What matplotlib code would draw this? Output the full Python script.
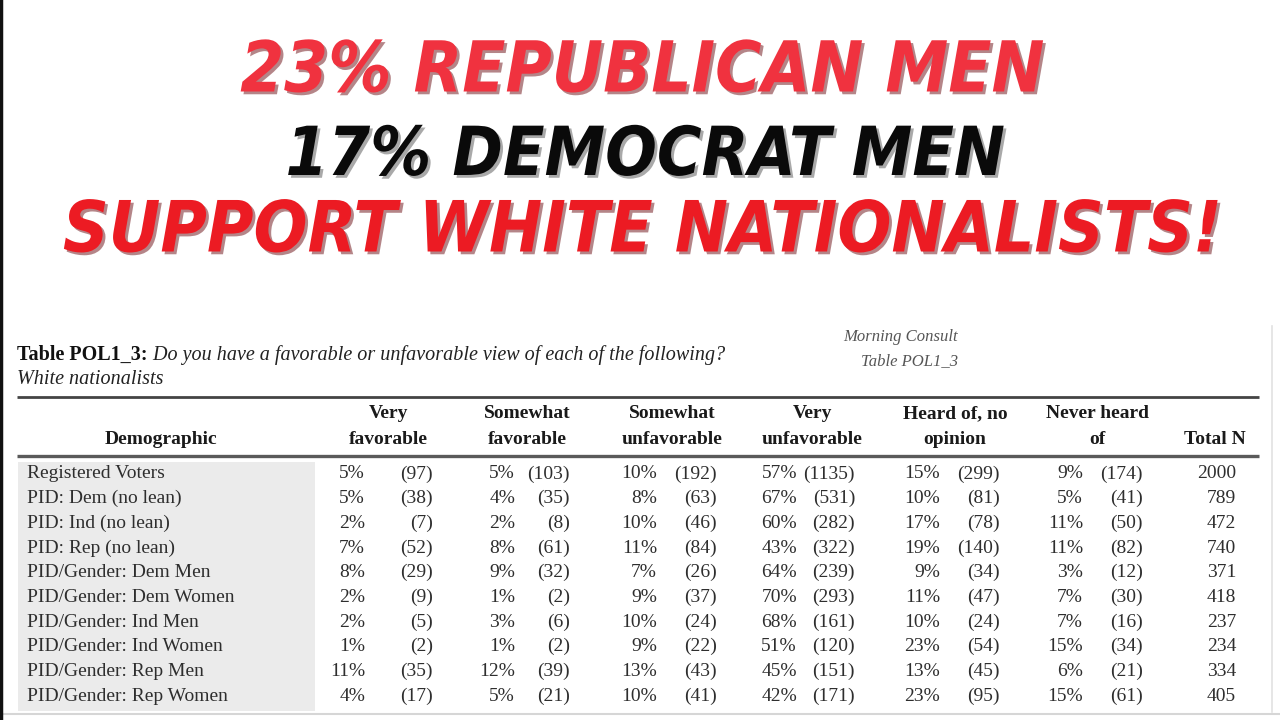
import matplotlib.pyplot as plt
import matplotlib.patheffects as pe

# headline
headline = ["23% REPUBLICAN MEN", "17% DEMOCRAT MEN", "SUPPORT WHITE NATIONALISTS!"]
headline_colors = ["#f0323f", "#0a0a0a", "#ec1b23"]

# table text
table_title = "Table POL1_3:"
table_question = "Do you have a favorable or unfavorable view of each of the following?"
table_subject = "White nationalists"
source_lines = ["Morning Consult", "Table POL1_3"]
col_headers = [("Very", "favorable"), ("Somewhat", "favorable"), ("Somewhat", "unfavorable"),
               ("Very", "unfavorable"), ("Heard of, no", "opinion"), ("Never heard", "of")]

demographics = [
    "Registered Voters",
    "PID: Dem (no lean)",
    "PID: Ind (no lean)",
    "PID: Rep (no lean)",
    "PID/Gender: Dem Men",
    "PID/Gender: Dem Women",
    "PID/Gender: Ind Men",
    "PID/Gender: Ind Women",
    "PID/Gender: Rep Men",
    "PID/Gender: Rep Women",
]
very_fav_pct = [5, 5, 2, 7, 8, 2, 2, 1, 11, 4]
very_fav_n = [97, 38, 7, 52, 29, 9, 5, 2, 35, 17]
some_fav_pct = [5, 4, 2, 8, 9, 1, 3, 1, 12, 5]
some_fav_n = [103, 35, 8, 61, 32, 2, 6, 2, 39, 21]
some_unfav_pct = [10, 8, 10, 11, 7, 9, 10, 9, 13, 10]
some_unfav_n = [192, 63, 46, 84, 26, 37, 24, 22, 43, 41]
very_unfav_pct = [57, 67, 60, 43, 64, 70, 68, 51, 45, 42]
very_unfav_n = [1135, 531, 282, 322, 239, 293, 161, 120, 151, 171]
no_opinion_pct = [15, 10, 17, 19, 9, 11, 10, 23, 13, 23]
no_opinion_n = [299, 81, 78, 140, 34, 47, 24, 54, 45, 95]
never_heard_pct = [9, 5, 11, 11, 3, 7, 7, 15, 6, 15]
never_heard_n = [174, 41, 50, 82, 12, 30, 16, 34, 21, 61]
total_n = [2000, 789, 472, 740, 371, 418, 237, 234, 334, 405]

pct_cols = [very_fav_pct, some_fav_pct, some_unfav_pct, very_unfav_pct, no_opinion_pct, never_heard_pct]
n_cols = [very_fav_n, some_fav_n, some_unfav_n, very_unfav_n, no_opinion_n, never_heard_n]

# layout (pixel coordinates of a 1280x720 canvas)
header_x = [388, 527, 672, 812, 955, 1097]
pct_right = [365, 515, 657, 797, 940, 1083]
n_right = [433, 570, 717, 855, 1000, 1143]
total_right = 1236
row_y0, row_dy = 474, 24.67
SERIF = ["Liberation Serif", "DejaVu Serif"]
INK = "#2e2e2e"

fig = plt.figure(figsize=(12.8, 7.2), dpi=100)
ax = fig.add_axes([0, 0, 1, 1])
ax.set_xlim(0, 1280)
ax.set_ylim(720, 0)
ax.axis("off")
renderer = fig.canvas.get_renderer()

# headline, each line sized to the width it spans in the reference
head_y = [72, 156, 232]
head_width = [805, 720, 1160]
head_x = [642, 645, 642]
for txt, col, x, y, w in zip(headline, headline_colors, head_x, head_y, head_width):
    shadow = "#6b0d12" if col != "#0a0a0a" else "#555555"
    t = ax.text(x, y, txt, ha="center", va="center", fontsize=50, color=col,
                family="DejaVu Sans", fontstretch="condensed", fontweight="heavy",
                fontstyle="italic")
    cur = t.get_window_extent(renderer).width
    t.set_fontsize(50 * w / cur)
    t.set_path_effects([pe.SimplePatchShadow(offset=(2, -2), shadow_rgbFace=shadow, alpha=0.5),
                        pe.Normal()])

# table title
t1 = ax.text(17, 355, table_title, ha="left", va="center", fontsize=14.5,
             family=SERIF, fontweight="bold", color="#111111")
ax.annotate(" " + table_question, xy=(1, 0), xycoords=t1, va="bottom", ha="left",
            fontsize=14.5, family=SERIF, fontstyle="italic", color="#222222")
ax.text(17, 379, table_subject, ha="left", va="center", fontsize=14.5,
        family=SERIF, fontstyle="italic", color="#222222")
ax.text(958, 337, source_lines[0], ha="right", va="center", fontsize=12,
        family=SERIF, fontstyle="italic", color="#555555")
ax.text(958, 361, source_lines[1], ha="right", va="center", fontsize=12,
        family=SERIF, fontstyle="italic", color="#555555")

# rules
ax.plot([17, 1259], [397, 397], color="#444444", lw=2.0, solid_capstyle="butt")
ax.plot([17, 1259], [456, 456], color="#5a5a5a", lw=2.4, solid_capstyle="butt")
ax.plot([0, 1280], [714, 714], color="#d6d6d6", lw=1.5)

# header
ax.text(161, 440, "Demographic", ha="center", va="center", fontsize=14,
        family=SERIF, fontweight="bold", color="#1a1a1a")
for (h1, h2), x in zip(col_headers, header_x):
    ax.text(x, 414, h1, ha="center", va="center", fontsize=14,
            family=SERIF, fontweight="bold", color="#1a1a1a")
    ax.text(x, 440, h2, ha="center", va="center", fontsize=14,
            family=SERIF, fontweight="bold", color="#1a1a1a")
ax.text(total_right + 10, 440, "Total N", ha="right", va="center", fontsize=14,
        family=SERIF, fontweight="bold", color="#1a1a1a")

# demographic column shading
ax.add_patch(plt.Rectangle((18, 462), 297, 249, color="#ebebeb", zorder=0, lw=0))

for i, name in enumerate(demographics):
    y = row_y0 + i * row_dy
    ax.text(27, y, name, ha="left", va="center", fontsize=14, family=SERIF, color=INK)
    for pcts, ns, px, nx in zip(pct_cols, n_cols, pct_right, n_right):
        ax.text(px, y, f"{pcts[i]}%", ha="right", va="center", fontsize=14,
                family=SERIF, color=INK)
        ax.text(nx, y, f"({ns[i]})", ha="right", va="center", fontsize=14,
                family=SERIF, color=INK)
    ax.text(total_right, y, str(total_n[i]), ha="right", va="center", fontsize=14,
            family=SERIF, color=INK)

# frame edges of the pasted screenshot
ax.plot([1, 1], [0, 720], color="#111111", lw=2.5)
ax.plot([1272, 1272], [326, 712], color="#e2e2e2", lw=1.2)

fig.savefig("out.png", dpi=100)
